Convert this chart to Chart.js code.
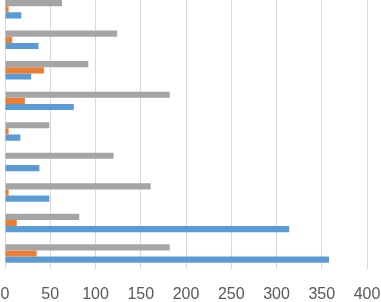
<!DOCTYPE html>
<html>
<head>
<meta charset="utf-8">
<script src="https://cdn.jsdelivr.net/npm/chart.js@4.4.1/dist/chart.umd.min.js"></script>
<style>
    html, body { margin: 0; padding: 0; background: #fff; overflow: hidden; }
    #wrap { position: absolute; left: -7px; top: -6px; width: 388px; height: 326px; }
</style>
</head>
<body>
<div id="wrap"><canvas id="chart"></canvas></div>
<script>
// categories top to bottom (no labels shown on the axis)
const categories = ['1', '2', '3', '4', '5', '6', '7', '8', '9'];

// series values, same order as categories
const grayValues = [63, 124, 92, 182, 49, 120, 161, 82, 182];
const orangeValues = [4, 8, 43, 22, 4, 0.5, 4, 13, 35];
const blueValues = [18, 37, 29, 76, 17, 38, 49, 314, 358];

// x axis ticks
const xTicks = [0, 50, 100, 150, 200, 250, 300, 350, 400];

document.addEventListener('DOMContentLoaded', function() {
    const ctx = document.getElementById('chart').getContext('2d');

    new Chart(ctx, {
        type: 'bar',
        data: {
            labels: categories,
            datasets: [
                { label: 'Gray', data: grayValues, backgroundColor: '#A5A5A5' },
                { label: 'Orange', data: orangeValues, backgroundColor: '#ED7D31' },
                { label: 'Blue', data: blueValues, backgroundColor: '#5B9BD5' }
            ]
        },
        options: {
            indexAxis: 'y',
            responsive: true,
            maintainAspectRatio: false,
            animation: false,
            datasets: {
                bar: { categoryPercentage: 0.605, barPercentage: 1.0 }
            },
            layout: { padding: { left: 4, right: 14, top: 0, bottom: 0 } },
            plugins: {
                legend: { display: false },
                tooltip: { enabled: false }
            },
            scales: {
                x: {
                    min: xTicks[0],
                    max: xTicks[xTicks.length - 1],
                    afterBuildTicks: function(axis) {
                        axis.ticks = xTicks.map(v => ({ value: v }));
                    },
                    // let the end labels hang over the edges like the original
                    afterFit: function(axis) {
                        axis.paddingLeft = 0;
                        axis.paddingRight = 0;
                    },
                    grid: { color: '#D9D9D9', lineWidth: 1, drawTicks: false },
                    border: { display: false },
                    ticks: {
                        padding: 16,
                        color: '#595959',
                        font: { family: 'Liberation Sans', size: 16 }
                    }
                },
                y: {
                    grid: { display: false },
                    border: { display: true, color: '#D9D9D9', width: 1 },
                    ticks: { display: false }
                }
            }
        }
    });
});
</script>
</body>
</html>
